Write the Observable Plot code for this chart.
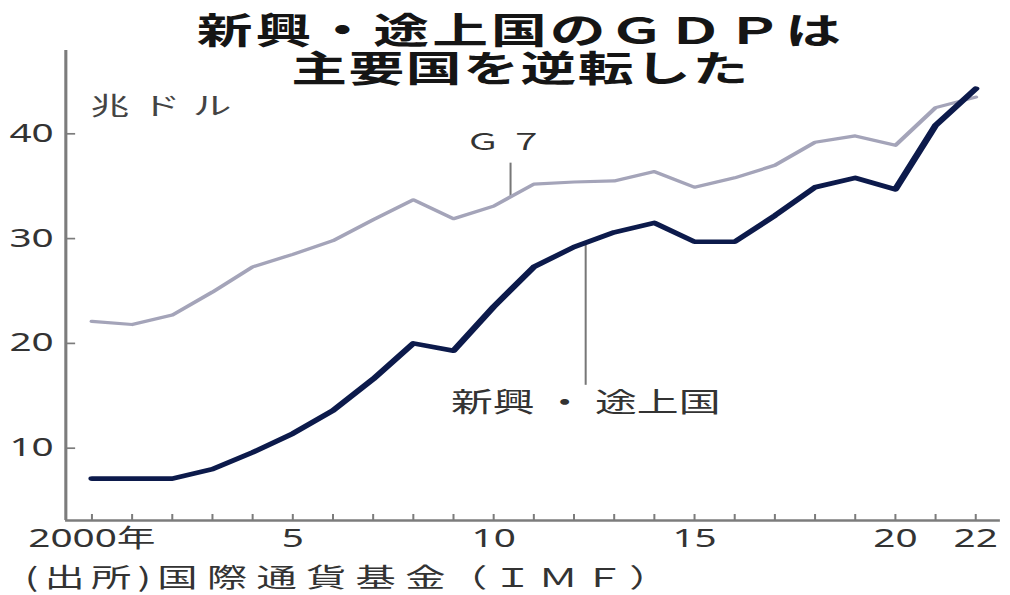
<!DOCTYPE html>
<html>
<head>
<meta charset="utf-8">
<script src="https://cdn.jsdelivr.net/npm/d3@7"></script>
<script src="https://cdn.jsdelivr.net/npm/@observablehq/plot@0.6"></script>
<style>
  html, body { margin: 0; padding: 0; background: #fff; }
  #wrap { position: absolute; left: 0; top: 0; width: 652px; height: 595px; transform: scaleX(1.549); transform-origin: 0 0; }
  #chart { position: absolute; left: 0; top: 0; }
  .title { position: absolute; left: 10px; width: 652px; height: 36px; text-align: center; font-family: "Noto Sans CJK JP", sans-serif; font-weight: 700; font-size: 36px; line-height: 36px; color: #151515; white-space: nowrap; }
  #t1 { top: 10px; letter-spacing: 2px; }
  #t2 { top: 47.5px; letter-spacing: 1px; }
  #caption { position: absolute; left: 16px; top: 562px; font-family: "Noto Sans CJK JP", sans-serif; font-size: 26px; line-height: 28px; color: #333; white-space: nowrap; }
  #caption .src { letter-spacing: 4px; }
  #caption .org { letter-spacing: 6px; }
  #caption .imf { margin-left: -5px; letter-spacing: 3.4px; }
</style>
</head>
<body>
<div id="wrap">
  <div id="chart"></div>
  <div class="title" id="t1">新興・途上国のＧＤＰは</div>
  <div class="title" id="t2">主要国を逆転した</div>
  <div id="caption"><span class="src">(出所)</span><span class="org">国際通貨基金</span><span class="imf">（ＩＭＦ）</span></div>
</div>
<script>
// ---- data ----
const years = [2000, 2001, 2002, 2003, 2004, 2005, 2006, 2007, 2008, 2009, 2010, 2011,
               2012, 2013, 2014, 2015, 2016, 2017, 2018, 2019, 2020, 2021, 2022];
const g7 = [22.1, 21.8, 22.7, 24.9, 27.3, 28.5, 29.8, 31.8, 33.7, 31.9, 33.1, 35.2,
            35.4, 35.5, 36.4, 34.9, 35.8, 37.0, 39.2, 39.8, 38.9, 42.5, 43.5];
const emerging = [7.1, 7.1, 7.1, 8.0, 9.6, 11.4, 13.6, 16.6, 20.0, 19.3, 23.5, 27.3,
                  29.2, 30.6, 31.5, 29.7, 29.7, 32.2, 34.9, 35.8, 34.7, 40.8, 44.3];
const yTicks = [10, 20, 30, 40];
const xLabelYears = [2000, 2005, 2010, 2015, 2020, 2022];
const unitLabel = ["兆ドル"];
const seriesLabels = ["Ｇ ７", "新興 ・ 途上国"];
const seriesLabelYear = [2010.27, 2012.29];
const seriesLabelValue = [39.2, 14.3];
const leaderYear = [2010.42, 2012.29];
const leaderTop = [37.2, 29.4];
const leaderBottom = [34.0, 16.0];

// ---- tables built from arrays ----
const g7Rows = years.map((yr, i) => ({year: yr, value: g7[i]}));
const emRows = years.map((yr, i) => ({year: yr, value: emerging[i]}));
const labelRows = seriesLabels.map((t, i) => ({text: t, year: seriesLabelYear[i], value: seriesLabelValue[i]}));
const leaderRows = leaderYear.map((yr, i) => ({year: yr, top: leaderTop[i], bottom: leaderBottom[i]}));

const xDomain = [1999.35, 2022.62];
const yDomain = [3.1, 47.95];
const axisColor = "#7c7c7c";
const cjk = '"Noto Sans CJK JP", sans-serif';

const chart = Plot.plot({
  width: 652,
  height: 560,
  marginTop: 50,
  marginBottom: 40,
  marginLeft: 42,
  marginRight: 6.5,
  x: {domain: xDomain, label: null},
  y: {domain: yDomain, label: null},
  style: {fontFamily: '"Noto Sans", "Noto Sans CJK JP", sans-serif', fontSize: "25px", color: "#333", background: "transparent", overflow: "visible"},
  marks: [
    Plot.ruleX([xDomain[0]], {stroke: axisColor, strokeWidth: 2}),
    Plot.ruleY([yDomain[0]], {stroke: axisColor, strokeWidth: 2.4}),
    Plot.axisY({ticks: yTicks, tickSize: -6.5, tickPadding: 14.3, stroke: axisColor, strokeWidth: 1.7, fontSize: 25, fill: "#333", label: null}),
    Plot.axisX({ticks: years, tickSize: -6, tickFormat: () => "", stroke: axisColor, strokeWidth: 1.3, label: null}),
    Plot.axisX({ticks: xLabelYears, tickSize: 0, tickPadding: 9, fontSize: 25, fill: "#333", label: null,
                tickFormat: d => d === 2000 ? "2000年" : String(d % 100)}),
    Plot.ruleX(leaderRows, {x: "year", y1: "top", y2: "bottom", stroke: "#777", strokeWidth: 1.3}),
    Plot.line(g7Rows, {x: "year", y: "value", stroke: "#a4a4b9", strokeWidth: 3.2, strokeLinejoin: "round", strokeLinecap: "round"}),
    Plot.line(emRows, {x: "year", y: "value", stroke: "#0c1a4b", strokeWidth: 4.6, strokeLinejoin: "round", strokeLinecap: "round"}),
    Plot.text(labelRows, {x: "year", y: "value", text: "text", fontSize: (d) => d.text.length > 3 ? 27 : 23, fontFamily: cjk, fill: "#333", textAnchor: "middle"}),
    Plot.text(unitLabel, {text: d => d, frameAnchor: "top-left", textAnchor: "start", dx: 16, dy: 47, fontSize: 25, fontFamily: cjk, fill: "#444"})
  ]
});
document.getElementById("chart").appendChild(chart);
chart.querySelectorAll("text").forEach(t => {
  if (t.textContent === unitLabel[0]) t.setAttribute("letter-spacing", "8");
});
</script>
</body>
</html>
